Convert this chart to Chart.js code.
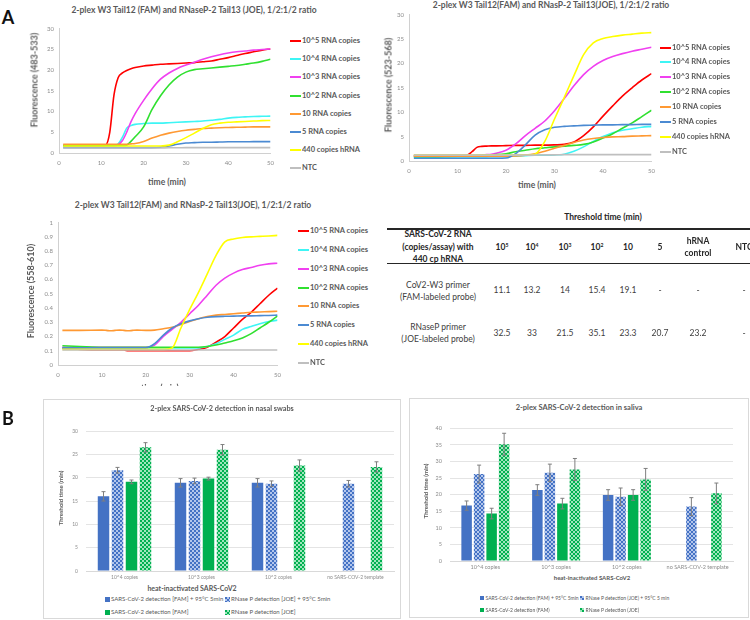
<!DOCTYPE html>
<html>
<head>
<meta charset="utf-8">
<script src="https://cdn.jsdelivr.net/npm/chart.js@4.4.1/dist/chart.umd.min.js"></script>
<style>
body { margin:0; width:750px; height:620px; position:relative; overflow:hidden; background:#fff; font-family:Lato, 'Open Sans', sans-serif; color:#595959; }
canvas { position:absolute; }
.t { position:absolute; white-space:nowrap; line-height:1; font-family:Lato, 'Open Sans', sans-serif; }
.t sup { font-size:0.6em; line-height:0; vertical-align:0.6em; }
.box { position:absolute; border:1px solid #d9d9d9; box-sizing:border-box; }
.rule { position:absolute; background:#262626; }
</style>
</head>
<body>
<script>
// Amplification curves: shared time points (min)
const times = [1,5,10,11,12,13,14,15,16,17,18,20,22,24,26,28,30,32,34,36,38,40,42,44,46,48,50];
const curveLabels = ['10^5 RNA copies','10^4 RNA copies','10^3 RNA copies','10^2 RNA copies','10 RNA copies','5 RNA copies','440 copies hRNA','NTC'];

// Fluorescence (483-533)
const fam1e5 = [1.8,1.8,1.8,1.9,5,14,18.2,19.3,19.9,20.3,20.6,21,21.2,21.4,21.5,21.6,21.7,21.8,22,22.2,22.6,23,23.5,24,24.4,24.8,25.1];
const fam1e4 = [1.8,1.8,1.8,1.8,1.8,1.8,2.2,3.8,6,6.6,6.9,7.1,7.2,7.2,7.3,7.4,7.5,7.6,7.7,7.9,8.1,8.4,8.6,8.7,8.8,8.85,8.9];
const fam1e3 = [1.8,1.8,1.8,1.8,1.8,1.8,2,3,5,7.5,9.5,12.7,15.5,17.8,19.3,20.4,21.2,21.9,22.6,23.2,23.7,24.1,24.4,24.6,24.8,24.95,25.1];
const fam1e2 = [1.8,1.8,1.8,1.8,1.8,1.8,1.8,1.8,1.9,2.8,3.9,6.3,10.5,13.8,16.4,18.3,19.5,20.1,20.3,20.5,20.7,20.9,21.1,21.4,21.7,22.1,22.6];
const fam10 = [2.1,2.1,2.1,2.1,2.1,2.1,2.1,2.1,2.1,2.2,2.3,2.8,3.6,4.3,4.8,5.2,5.5,5.7,5.9,6,6.1,6.15,6.2,6.25,6.3,6.3,6.3];
const fam5 = [1.3,1.3,1.3,1.3,1.3,1.3,1.3,1.3,1.3,1.3,1.3,1.3,1.3,1.4,1.7,2.1,2.4,2.5,2.6,2.6,2.65,2.7,2.7,2.7,2.75,2.75,2.75];
const famHrna = [1.7,1.7,1.7,1.7,1.7,1.7,1.7,1.7,1.7,1.7,1.7,1.7,1.7,1.7,1.9,2.7,3.7,4.8,5.9,6.8,7.2,7.4,7.5,7.6,7.7,7.8,7.85];
const famNtc = [1.2,1.2,1.2,1.2,1.2,1.2,1.2,1.2,1.2,1.2,1.2,1.2,1.2,1.2,1.25,1.25,1.3,1.3,1.3,1.3,1.3,1.3,1.3,1.3,1.3,1.3,1.3];

// Fluorescence (523-568)
const joeA1e5 = [1.1,1.1,1.1,1.1,1.2,1.9,2.8,3,3.05,3.1,3.1,3.15,3.2,3.2,3.25,3.25,3.3,3.4,3.9,5.2,7,9.2,11.3,13.3,15,16.6,17.9];
const joeA1e4 = [0.8,0.8,0.85,0.85,0.85,0.85,0.85,0.85,0.85,0.9,0.9,0.9,1,1.1,1.2,1.2,1.25,1.4,2,2.9,4,5,5.8,6.3,6.6,6.9,7.1];
const joeA1e3 = [1,1,1.05,1.05,1.1,1.1,1.15,1.2,1.3,1.4,1.6,2.2,3.5,5.2,6.7,8.2,10.3,12.8,15.4,17.7,19.4,20.6,21.4,22,22.5,22.9,23.3];
const joeA1e2 = [0.9,0.9,1,1,1,1.05,1.1,1.15,1.2,1.25,1.3,1.5,1.9,2.2,2.5,2.7,2.9,3.05,3.2,3.4,3.9,4.7,5.6,6.7,7.8,9.1,10.4];
const joeA10 = [1,1,1,1,1,1,1,1,1,1,1,1,1.05,1.2,1.5,2,2.6,3.2,3.8,4.3,4.6,4.8,4.95,5,5.1,5.15,5.2];
const joeA5 = [0.55,0.55,0.55,0.55,0.55,0.55,0.55,0.55,0.55,0.55,0.55,0.6,1.5,3.3,5.3,6.4,6.9,7.1,7.2,7.3,7.35,7.4,7.4,7.45,7.45,7.5,7.5];
const joeAHrna = [1.2,1.2,1.2,1.2,1.2,1.2,1.2,1.2,1.2,1.2,1.2,1.2,1.2,1.2,1.4,4,8.6,13,17.5,21.8,24.2,25.1,25.5,25.8,26,26.2,26.3];
const joeANtc = [1.2,1.2,1.2,1.2,1.2,1.2,1.2,1.2,1.2,1.2,1.2,1.2,1.2,1.2,1.2,1.25,1.25,1.3,1.3,1.3,1.3,1.3,1.3,1.3,1.3,1.3,1.3];

// Fluorescence (558-610)
const joeB1e5 = [0.12,0.11,0.105,0.105,0.105,0.105,0.105,0.105,0.1,0.1,0.1,0.1,0.1,0.1,0.1,0.1,0.1,0.11,0.125,0.16,0.2,0.26,0.32,0.37,0.43,0.49,0.54];
const joeB1e4 = [0.12,0.12,0.12,0.12,0.12,0.12,0.12,0.12,0.12,0.12,0.12,0.12,0.12,0.12,0.12,0.12,0.12,0.12,0.13,0.15,0.18,0.21,0.25,0.27,0.29,0.305,0.315];
const joeB1e3 = [0.125,0.125,0.125,0.125,0.125,0.125,0.125,0.125,0.125,0.125,0.125,0.125,0.14,0.2,0.25,0.3,0.36,0.42,0.49,0.56,0.61,0.645,0.67,0.685,0.7,0.71,0.715];
const joeB1e2 = [0.135,0.13,0.125,0.125,0.125,0.125,0.125,0.125,0.125,0.125,0.125,0.125,0.125,0.125,0.125,0.125,0.125,0.125,0.13,0.14,0.155,0.17,0.19,0.22,0.26,0.3,0.345];
const joeB10 = [0.243,0.243,0.245,0.243,0.24,0.243,0.245,0.243,0.24,0.243,0.245,0.243,0.245,0.255,0.265,0.285,0.305,0.325,0.34,0.35,0.355,0.36,0.365,0.37,0.372,0.375,0.377];
const joeB5 = [0.12,0.12,0.12,0.12,0.12,0.12,0.12,0.12,0.12,0.12,0.12,0.12,0.15,0.21,0.26,0.29,0.31,0.325,0.335,0.34,0.342,0.343,0.345,0.345,0.347,0.348,0.35];
const joeBHrna = [0.11,0.11,0.11,0.11,0.11,0.11,0.11,0.11,0.11,0.11,0.11,0.11,0.11,0.11,0.12,0.26,0.39,0.51,0.64,0.77,0.865,0.885,0.895,0.9,0.903,0.906,0.91];
const joeBNtc = [0.105,0.105,0.105,0.105,0.105,0.105,0.105,0.105,0.105,0.105,0.105,0.105,0.105,0.105,0.105,0.105,0.105,0.105,0.105,0.105,0.105,0.105,0.105,0.105,0.105,0.105,0.105];

// Threshold table
const tableHeads = ['10<sup>5</sup>','10<sup>4</sup>','10<sup>3</sup>','10<sup>2</sup>','10','5','hRNA<br>control','NTC'];
const famThreshold = [11.1,13.2,14,15.4,19.1,null,null,null];
const joeThreshold = [32.5,33,21.5,35.1,23.3,20.7,23.2,null];

// Clinical samples (threshold time, min) and error bars
const sampleCategories = ['10^4 copies','10^3 copies','10^2 copies','no SARS-COV-2 template'];
const nasalFamHeat = [16.0,18.9,18.9,null];
const nasalFamHeatErr = [1.0,0.9,0.9,null];
const nasalJoeHeat = [21.6,19.3,18.7,18.7];
const nasalJoeHeatErr = [0.6,0.6,0.6,0.7];
const nasalFam = [19.1,19.8,null,null];
const nasalFamErr = [0.4,0.3,null,null];
const nasalJoe = [26.5,26.0,22.6,22.3];
const nasalJoeErr = [1.0,1.1,1.2,1.1];
const salivaFamHeat = [16.7,21.4,19.9,null];
const salivaFamHeatErr = [1.4,1.6,1.6,null];
const salivaJoeHeat = [26.2,26.6,19.4,16.4];
const salivaJoeHeatErr = [2.7,2.6,2.6,2.7];
const salivaFam = [14.3,17.3,19.9,null];
const salivaFamErr = [1.6,1.6,1.6,null];
const salivaJoe = [35.2,27.6,24.6,20.4];
const salivaJoeErr = [3.3,3.3,3.3,3.1];

const curveColors = ['#ff0000','#3ef5f5','#f040f0','#30e030','#ff9933','#4b8ad2','#ffff00','#bfbfbf'];
const FONT = "Lato, 'Open Sans', sans-serif";

function put(html, x, y, style, left) {
    const d = document.createElement('div');
    d.className = 't';
    d.innerHTML = html;
    d.style.left = x + 'px';
    d.style.top = y + 'px';
    d.style.transform = left ? 'translate(0,-50%)' : 'translate(-50%,-50%)';
    d.style.cssText += style || '';
    document.body.appendChild(d);
    return d;
}

function makeCanvas(l, t, w, h) {
    const c = document.createElement('canvas');
    c.width = w; c.height = h;
    c.style.left = l + 'px'; c.style.top = t + 'px';
    c.style.width = w + 'px'; c.style.height = h + 'px';
    document.body.appendChild(c);
    return c;
}

// Line chart with fixed plot area
function lineChart(box, series, yMax, yStep, pad) {
    const cv = makeCanvas(box[0], box[1], box[2], box[3]);
    new Chart(cv, {
        type: 'line',
        data: {
            datasets: series.map((s, i) => ({
                label: curveLabels[i],
                data: times.map((t, k) => ({ x: t, y: s[k] })),
                borderColor: curveColors[i],
                borderWidth: 1.6,
                pointRadius: 0,
                cubicInterpolationMode: 'monotone',
                fill: false,
                order: series.length - i
            }))
        },
        options: {
            responsive: false,
            animation: false,
            devicePixelRatio: 1,
            layout: { padding: { top: pad[0], right: pad[1], left: 0, bottom: 0 } },
            plugins: { legend: { display: false }, tooltip: { enabled: false } },
            scales: {
                x: {
                    type: 'linear', min: 0, max: 50,
                    ticks: { stepSize: 10, color: '#8c8c8c', font: { family: FONT, size: 6 }, padding: 6, maxRotation: 0 },
                    grid: { display: false, drawTicks: false },
                    border: { display: true, color: '#d0d0d0' },
                    afterFit(s) { s.height = 12; }
                },
                y: {
                    min: 0, max: yMax,
                    ticks: { stepSize: yStep, color: '#8c8c8c', font: { family: FONT, size: 6 }, padding: 5,
                             callback: v => String(Math.round(v * 10) / 10) },
                    grid: { display: false, drawTicks: false },
                    border: { display: true, color: '#d0d0d0' },
                    afterFit(s) { s.width = 29; }
                }
            }
        }
    });
}

function curveLegend(x0, y0, step) {
    curveLabels.forEach((lab, i) => {
        const ln = document.createElement('div');
        ln.style.cssText = `position:absolute;left:${x0}px;top:${y0 + i * step - 1}px;width:11px;height:2px;background:${curveColors[i]}`;
        document.body.appendChild(ln);
        put(lab, x0 + 12, y0 + i * step, 'font-size:7.5px;font-weight:700;color:#595959', true);
    });
}

// Checker pattern like the Excel fill
function checkerTile(dark, light) {
    const c = document.createElement('canvas');
    c.width = 4; c.height = 4;
    const g = c.getContext('2d');
    g.fillStyle = light; g.fillRect(0, 0, 4, 4);
    g.fillStyle = dark; g.fillRect(0, 0, 2, 2); g.fillRect(2, 2, 2, 2);
    return c;
}
const blueTile = checkerTile('#4472c4', '#b3c6ec');
const greenTile = checkerTile('#00b050', '#9fe6bc');

const errorBars = {
    id: 'errorBars',
    afterDatasetsDraw(chart) {
        const ctx = chart.ctx, ys = chart.scales.y;
        chart.data.datasets.forEach((ds, i) => {
            chart.getDatasetMeta(i).data.forEach((bar, k) => {
                const v = ds.data[k], e = ds.errors[k];
                if (v == null || e == null) return;
                const top = ys.getPixelForValue(v + e), bot = ys.getPixelForValue(v - e);
                ctx.save();
                ctx.strokeStyle = '#7f7f7f';
                ctx.lineWidth = 1;
                ctx.beginPath();
                ctx.moveTo(bar.x, top); ctx.lineTo(bar.x, bot);
                ctx.moveTo(bar.x - 2, top); ctx.lineTo(bar.x + 2, top);
                ctx.moveTo(bar.x - 2, bot); ctx.lineTo(bar.x + 2, bot);
                ctx.stroke();
                ctx.restore();
            });
        });
    }
};

function barChart(box, sets, errs, yMax, catPct, barPct, pad, yWidth, xHeight, fs) {
    const cv = makeCanvas(box[0], box[1], box[2], box[3]);
    const g = cv.getContext('2d');
    const fills = ['#4472c4', g.createPattern(blueTile, 'repeat'), '#00b050', g.createPattern(greenTile, 'repeat')];
    new Chart(cv, {
        type: 'bar',
        data: {
            labels: sampleCategories,
            datasets: sets.map((s, i) => ({ data: s, errors: errs[i], backgroundColor: fills[i], borderWidth: 0 }))
        },
        options: {
            responsive: false,
            animation: false,
            devicePixelRatio: 1,
            categoryPercentage: catPct,
            barPercentage: barPct,
            layout: { padding: { top: pad[0], right: pad[1], left: 0, bottom: 0 } },
            plugins: { legend: { display: false }, tooltip: { enabled: false } },
            scales: {
                x: {
                    ticks: { color: '#8c8c8c', font: { family: FONT, size: fs }, padding: 3, maxRotation: 0, autoSkip: false },
                    grid: { display: false, drawTicks: false },
                    border: { display: true, color: '#d9d9d9' },
                    afterFit(s) { s.height = xHeight; }
                },
                y: {
                    min: 0, max: yMax,
                    ticks: { stepSize: 5, color: '#8c8c8c', font: { family: FONT, size: fs }, padding: 8 },
                    grid: { color: '#e4e4e4', drawTicks: false },
                    border: { display: false },
                    afterFit(s) { s.width = yWidth; }
                }
            }
        },
        plugins: [errorBars]
    });
}

function barLegend(labels, x1, x2, y1, y2, size, mk) {
    const swatches = ['#4472c4', `url(${blueTile.toDataURL()})`, '#00b050', `url(${greenTile.toDataURL()})`];
    const spots = [[x1, y1], [x2, y1], [x1, y2], [x2, y2]];
    labels.forEach((lab, i) => {
        const m = document.createElement('div');
        m.style.cssText = `position:absolute;left:${spots[i][0] - mk / 2}px;top:${spots[i][1] - mk / 2}px;width:${mk}px;height:${mk}px;background:${swatches[i]}`;
        document.body.appendChild(m);
        put(lab, spots[i][0] + mk / 2 + 1.5, spots[i][1], `font-size:${size}px;color:#595959`, true);
    });
}

// ---------- Panel A ----------
put('A', 8, 17, 'font-size:18px;font-weight:700;color:#111');

// plot 1
put('2-plex W3 Tail12 (FAM) and RNaseP-2 Tail13 (JOE), 1/2:1/2 ratio', 194, 10, 'font-size:8.5px;font-weight:700');
lineChart([30, 20, 250, 145], [fam1e5, fam1e4, fam1e3, fam1e2, fam10, fam5, famHrna, famNtc], 30, 5, [6, 8]);
put('Fluorescence (483-533)', 34, 80, 'font-size:9px;font-weight:700;transform:translate(-50%,-50%) rotate(-90deg)');
put('time (min)', 167, 182, 'font-size:8.5px;font-weight:700');
curveLegend(290, 41, 18.2);

// plot 2
put('2-plex W3 Tail12(FAM) and RNasP-2 Tail13(JOE), 1/2:1/2 ratio', 551, 5, 'font-size:8.5px;font-weight:700');
lineChart([380, 6, 281, 167], [joeA1e5, joeA1e4, joeA1e3, joeA1e2, joeA10, joeA5, joeAHrna, joeANtc], 30, 5, [8, 9]);
put('Fluorescence (523-568)', 388, 85, 'font-size:9px;font-weight:700;transform:translate(-50%,-50%) rotate(-90deg)');
put('time (min)', 537, 185, 'font-size:8.5px;font-weight:700');
curveLegend(660, 47.5, 14.9);

// plot 3
put('2-plex W3 Tail12(FAM) and RNasP-2 Tail13(JOE), 1/2:1/2 ratio', 193, 205, 'font-size:8.5px;font-weight:700');
lineChart([29, 214, 258, 163], [joeB1e5, joeB1e4, joeB1e3, joeB1e2, joeB10, joeB5, joeBHrna, joeBNtc], 1, 0.1, [8, 9]);
put('Fluorescence (558-610)', 30, 291, 'font-size:9px;font-weight:700;transform:translate(-50%,-50%) rotate(-90deg)');
const clip = document.createElement('div');
clip.style.cssText = 'position:absolute;left:0;top:370px;width:375px;height:16px;overflow:hidden';
document.body.appendChild(clip);
const cut = put('time (min)', 160, 18, 'font-size:8.5px;font-weight:700');
clip.appendChild(cut);
curveLegend(298, 231, 18.85);

// threshold table
const colX = [438, 502, 532, 565, 597, 628, 660, 698, 744];
put('Threshold time (min)', 603, 217, 'font-size:8.5px;font-weight:700;color:#262626');
const r1 = document.createElement('div'); r1.className = 'rule';
r1.style.cssText += 'left:387px;top:228px;width:363px;height:1.5px';
document.body.appendChild(r1);
const r2 = document.createElement('div'); r2.className = 'rule';
r2.style.cssText += 'left:387px;top:263px;width:363px;height:1px';
document.body.appendChild(r2);
put('SARS-CoV-2 RNA<br>(copies/assay) with<br>440 cp hRNA', colX[0], 247, 'font-size:8.5px;font-weight:700;color:#262626;text-align:center;line-height:12.5px');
tableHeads.forEach((h, i) => {
    put(h, colX[i + 1], 247, 'font-size:8.5px;font-weight:700;color:#262626;text-align:center;line-height:12px');
});
put('CoV2-W3 primer<br>(FAM-labeled probe)', colX[0], 291, 'font-size:8.5px;color:#404040;text-align:center;line-height:12px');
put('RNaseP primer<br>(JOE-labeled probe)', colX[0], 333, 'font-size:8.5px;color:#404040;text-align:center;line-height:12px');
famThreshold.forEach((v, i) => put(v == null ? '-' : String(v), colX[i + 1], 290, 'font-size:8.5px;color:#404040'));
joeThreshold.forEach((v, i) => put(v == null ? '-' : String(v), colX[i + 1], 333, 'font-size:8.5px;color:#404040'));

// ---------- Panel B ----------
put('B', 8, 418, 'font-size:18px;font-weight:700;color:#111');

// nasal swabs
const b1 = document.createElement('div'); b1.className = 'box';
b1.style.cssText += 'left:43px;top:399px;width:358px;height:220px';
document.body.appendChild(b1);
put('2-plex SARS-CoV-2 detection in nasal swabs', 222, 409, 'font-size:7.3px;font-weight:700');
barChart([60, 420, 340, 162],
    [nasalFamHeat, nasalJoeHeat, nasalFam, nasalJoe],
    [nasalFamHeatErr, nasalJoeHeatErr, nasalFamErr, nasalJoeErr],
    30, 0.727, 0.82, [8, 6], 26, 9, 5);
put('Threshold time (min)', 61, 498, 'font-size:6px;font-weight:700;transform:translate(-50%,-50%) rotate(-90deg)');
put('heat-inactivated SARS-CoV2', 192, 588, 'font-size:7px;font-weight:700');
barLegend(['SARS-CoV-2 detection [FAM] + 95°C 5min', 'RNase P detection [JOE] + 95°C 5min',
           'SARS-CoV-2 detection [FAM]', 'RNase P detection [JOE]'], 107, 227, 599, 612, 6, 5);

// saliva
const b2 = document.createElement('div'); b2.className = 'box';
b2.style.cssText += 'left:409px;top:398px;width:340px;height:220px';
document.body.appendChild(b2);
put('2-plex SARS-CoV-2 detection in saliva', 579, 408, 'font-size:7.5px;font-weight:700');
barChart([425, 417, 316, 156],
    [salivaFamHeat, salivaJoeHeat, salivaFam, salivaJoe],
    [salivaFamHeatErr, salivaJoeHeatErr, salivaFamErr, salivaJoeErr],
    40, 0.707, 0.84, [8, 8], 25, 12, 5.5);
put('Threshold time (min)', 426, 491, 'font-size:6px;font-weight:700;transform:translate(-50%,-50%) rotate(-90deg)');
put('heat-inactivated SARS-CoV2', 592, 578, 'font-size:6px;font-weight:700');
barLegend(['SARS-CoV-2 detection (FAM) + 95°C 5min', 'RNase P detection (JOE) + 95°C 5 min',
           'SARS-CoV-2 detection (FAM)', 'RNase P detection (JOE)'], 482, 582, 598, 610, 5, 4);
</script>
</body>
</html>
